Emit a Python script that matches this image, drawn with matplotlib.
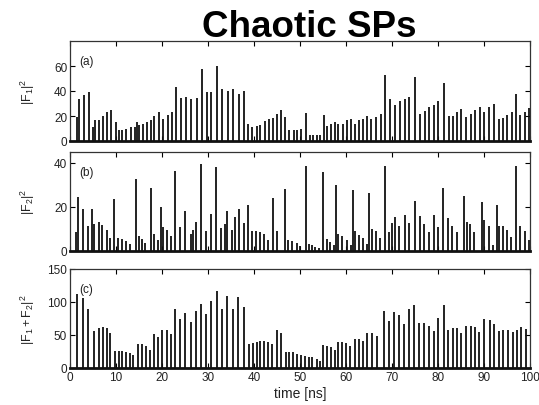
import matplotlib
matplotlib.use("Agg")
import matplotlib.pyplot as plt

plt.rcParams['font.family'] = ['Liberation Sans', 'DejaVu Sans']
plt.rcParams['mathtext.fontset'] = 'custom'
plt.rcParams['mathtext.rm'] = 'Liberation Sans'
plt.rcParams['mathtext.it'] = 'Liberation Sans'
plt.rcParams['mathtext.bf'] = 'Liberation Sans:bold'

# ---- data: pulse times [ns] and peak intensities ----
t_a = [1.5, 1.9, 3.0, 4.1, 5.1, 5.4, 6.3, 7.2, 8.1, 9.0, 9.9, 10.6, 11.4, 12.2, 13.2, 14.1, 14.5, 14.9,
       15.8, 16.7, 17.5, 18.3, 19.3, 20.3, 21.2, 22.1, 23.1, 24.1, 25.3, 26.4, 27.5, 28.6, 29.7, 30.7,
       32.0, 33.0, 34.3, 35.4, 36.7, 37.8, 38.8, 39.6, 40.6, 41.4, 42.3, 43.2, 44.1, 45.0, 45.9, 46.8,
       47.7, 48.6, 49.4, 50.3, 51.4, 52.2, 52.9, 53.6, 54.3, 55.2, 55.9, 56.7, 57.6, 58.3, 59.3, 60.2,
       61.0, 61.9, 62.8, 63.8, 64.6, 65.4, 66.5, 67.5, 68.5, 69.5, 70.7, 71.7, 72.8, 73.8, 74.9, 76.1,
       77.1, 78.0, 79.1, 80.1, 81.2, 82.3, 83.3, 84.2, 85.1, 86.1, 87.1, 88.1, 89.1, 90.0, 91.1, 92.2,
       93.2, 94.1, 95.1, 96.0, 97.0, 97.9, 98.9, 99.8]
F1_sq = [19, 34, 37, 39, 11, 16.5, 17, 20, 23, 25, 15.5, 8.5, 9, 10, 11, 11.5, 15, 12.5,
         14, 15.5, 17, 20, 23, 18, 20.5, 23.5, 43.5, 34.7, 35.5, 34, 34.7, 58, 39.5, 39.5,
         60, 42, 40, 41.6, 37.6, 40, 14, 11.5, 12, 13, 15.7, 17.3, 18.7, 22, 24.8, 19,
         9, 9, 9, 9.5, 22.7, 5, 5, 5, 5, 20.5, 12, 14, 15.5, 14, 14, 16.5,
         17.3, 14, 16.5, 18, 20, 17.3, 19, 22, 52.5, 34, 29, 31.7, 34, 35.5, 51, 22,
         23.7, 27, 29, 31.7, 46.7, 20, 20, 23, 25.3, 19, 21.6, 24.5, 27, 23.5, 27, 30,
         17.3, 18.7, 21, 23.5, 38, 21, 23.5, 26.7]

t_b = [1.3, 1.7, 2.9, 4.0, 4.8, 5.2, 6.2, 7.0, 8.0, 8.8, 9.6, 10.4, 11.3, 12.2, 13.1, 14.3, 14.9, 15.7,
       16.4, 17.5, 18.3, 19.1, 19.8, 20.2, 21.1, 22.0, 22.9, 24.0, 25.1, 26.2, 26.7, 27.3, 28.4, 29.6,
       30.6, 31.8, 32.9, 33.6, 34.2, 35.3, 35.9, 36.7, 37.8, 38.7, 39.6, 40.4, 41.3, 42.2, 43.1, 44.1,
       44.9, 46.7, 47.4, 48.3, 49.3, 50.1, 51.3, 51.9, 52.6, 53.3, 54.1, 55.0, 55.8, 56.6, 57.4, 57.9,
       58.3, 59.2, 60.2, 61.0, 61.5, 62.0, 62.8, 63.8, 64.5, 65.1, 65.7, 66.5, 67.4, 68.4, 69.3, 70.0,
       70.6, 71.5, 72.9, 73.7, 74.9, 76.0, 77.0, 78.0, 79.2, 80.0, 81.1, 82.2, 83.1, 84.1, 85.6, 86.2,
       87.0, 87.9, 89.5, 90.1, 91.1, 92.0, 92.8, 93.2, 94.1, 95.0, 95.9, 96.9, 97.8, 98.9, 99.8]
F2_sq = [8.6, 24.4, 19, 11.5, 19.2, 12.4, 13, 11.7, 9.7, 5.9, 23.8, 6, 5.5, 4.4, 3, 32.9, 6.7, 5.6,
         3.6, 28.6, 7.7, 4.8, 19.8, 10.9, 9.7, 6.7, 36.5, 10.8, 18, 7.9, 9.7, 13.2, 39.7, 9.2,
         16.8, 38.2, 10.5, 12.4, 18, 9.7, 15.3, 19, 12.7, 20.8, 9.1, 9.1, 8.8, 7.7, 4.8, 24,
         9.2, 28.2, 5.2, 4.7, 3.6, 2.4, 38.5, 3.2, 2.6, 2, 1.5, 35.8, 5.5, 4.1, 2.6, 30.2,
         7.7, 7, 4.8, 2.9, 27.9, 8.9, 7.4, 5.9, 3.3, 26.4, 10.2, 8.9, 5.9, 38.8, 8.5, 12.7,
         15.3, 11.2, 16.5, 12.7, 22.6, 15.8, 12.4, 8.6, 16.5, 10.8, 28.6, 15, 11.2, 8.6, 24.8, 13,
         12.3, 8.8, 22.3, 14.2, 11.5, 2.9, 21, 11.5, 11.2, 9.7, 6.2, 38.8, 11.2, 9.2, 4.8]

t_c = [1.6, 2.8, 4.0, 5.2, 6.2, 7.1, 8.0, 8.8, 9.7, 10.6, 11.4, 12.2, 13.0, 13.8, 14.8, 15.7, 16.5, 17.4,
       18.3, 19.1, 20.1, 21.1, 22.0, 22.9, 24.0, 25.1, 26.2, 27.3, 28.4, 29.6, 30.7, 31.9, 33.0, 34.1,
       35.4, 36.6, 37.8, 38.9, 39.8, 40.6, 41.4, 42.2, 43.0, 43.9, 44.9, 45.9, 46.9, 47.7, 48.5, 49.3,
       50.2, 51.0, 51.9, 52.7, 53.6, 54.3, 55.0, 55.9, 56.7, 57.5, 58.3, 59.1, 60.0, 60.9, 61.9, 62.8,
       63.6, 64.6, 65.7, 66.7, 68.3, 69.3, 70.5, 71.6, 72.6, 73.6, 74.8, 75.9, 77.0, 78.0, 79.1, 80.1,
       81.2, 82.2, 83.2, 84.1, 85.1, 86.1, 87.1, 88.1, 89.0, 90.1, 91.2, 92.2, 93.3, 94.2, 95.2, 96.2,
       97.2, 98.1, 99.1]
Fsum_sq = [112, 106, 90, 56, 60, 62, 60, 53, 26, 26, 26, 25, 22, 20, 36, 36, 33, 28,
           52, 47, 57, 57, 52, 90, 74, 84, 70, 86, 97, 82, 101, 116, 90, 109,
           89, 108, 93, 36, 38, 40, 41, 41, 39, 36, 58, 53, 24, 25, 25, 21,
           19, 18, 17, 16, 14, 11, 35, 34, 32, 28, 40, 40, 38, 34, 44, 44,
           41, 53, 53, 49, 86, 71, 85, 81, 66, 89, 95, 68, 68, 64, 56, 76,
           96, 58, 61, 60, 53, 63, 64, 62, 54, 75, 72, 66, 56, 58, 58, 54,
           58, 62, 59]

panels = [
    (t_a, F1_sq, r'$|\mathrm{F}_1|^2$', (0, 80), [0, 20, 40, 60], '(a)'),
    (t_b, F2_sq, r'$|\mathrm{F}_2|^2$', (0, 45), [0, 20, 40], '(b)'),
    (t_c, Fsum_sq, r'$|\mathrm{F}_1 + \mathrm{F}_2|^2$', (0, 150), [0, 50, 100, 150], '(c)'),
]

W, H = 539, 406
fig = plt.figure(figsize=(W / 100, H / 100), dpi=100)
fig.patch.set_facecolor('white')

boxes = [(42, 142), (153, 252), (270, 369)]
left_px, right_px = 70, 530

for (t, v, lab, ylim, yt, tag), (top, bot) in zip(panels, boxes):
    ax = fig.add_axes([left_px / W, 1 - bot / H, (right_px - left_px) / W, (bot - top) / H])
    ax.vlines(t, 0, v, colors='#111111', linewidth=1.3)
    ax.set_xlim(0, 100)
    ax.set_ylim(*ylim)
    ax.set_yticks(yt)
    ax.set_xticks(range(0, 101, 10))
    ax.tick_params(direction='in', top=True, right=True, length=3.5, width=0.8,
                   labelsize=8.5, labelcolor='#222222', pad=2)
    for s in ax.spines.values():
        s.set_linewidth(0.9)
        s.set_color('#333333')
    ax.spines['bottom'].set_linewidth(2.0)
    ax.spines['bottom'].set_color('#111111')
    ax.set_ylabel(lab, fontsize=9, color='#222222')
    ax.yaxis.set_label_coords(-0.072, 0.5)
    ax.text(0.02, 0.80, tag, transform=ax.transAxes, fontsize=8.5, color='#222222',
            ha='left', va='center')
    if tag != '(c)':
        ax.set_xticklabels([])
    else:
        ax.set_xlabel('time [ns]', fontsize=10, color='#222222', labelpad=2)

fig.text(309 / W, 1 - 37 / H, 'Chaotic SPs', ha='center', va='baseline',
         fontsize=26.5, fontweight='bold', color='black')

fig.savefig('out.png', dpi=100)
